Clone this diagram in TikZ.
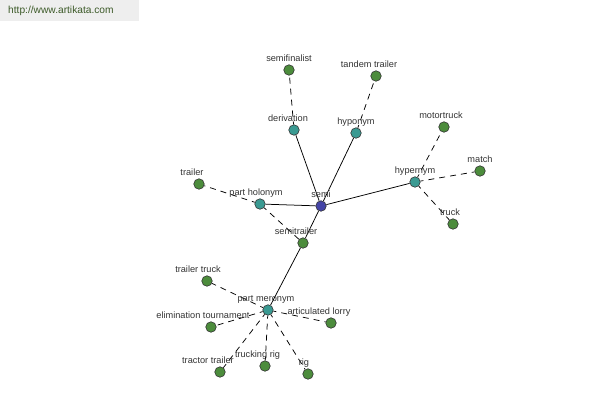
\documentclass[tikz,border=0pt]{standalone}
\usepackage{fontspec}
\setmainfont{Liberation Sans}
\usetikzlibrary{backgrounds}
\definecolor{semic}{HTML}{4444A6}
\definecolor{tealc}{HTML}{3A9A92}
\definecolor{greenc}{HTML}{4C8C3C}
\definecolor{txt}{HTML}{333333}
\definecolor{webtxt}{HTML}{3C5A28}
\definecolor{webbg}{HTML}{EEEEEE}
\tikzset{
  vert/.style={circle, draw=black!80, line width=0.6pt, minimum size=10.5pt, inner sep=0pt},
  semiv/.style={vert, fill=semic},
  relv/.style={vert, fill=tealc},
  wordv/.style={vert, fill=greenc},
  lab/.style={anchor=base, inner sep=0pt, font=\fontsize{9.2}{11}\selectfont, text=txt},
  solidedge/.style={draw=black, line width=0.75pt},
  dashedge/.style={draw=black, line width=0.75pt, dash pattern=on 6pt off 5pt, dash phase=3pt}
}
\begin{document}
\begin{tikzpicture}[x=1pt, y=-1pt]
\useasboundingbox (0,0) rectangle (600,400);
\node[fill=webbg, minimum width=139pt, minimum height=21pt, anchor=north west, inner sep=0pt] (webbox) at (0,0) {};
\node[anchor=west, inner sep=0pt, text=webtxt, font=\fontsize{10.2}{12}\selectfont] (web) at (8,11) {http://www.artikata.com};

\node[semiv] (semi) at (321,206) {};
\node[relv] (deriv) at (294,130) {};
\node[wordv] (semifin) at (289,70) {};
\node[relv] (hypo) at (356,133) {};
\node[wordv] (tandem) at (376,76) {};
\node[relv] (hyper) at (415,182) {};
\node[wordv] (motor) at (444,127) {};
\node[wordv] (match) at (480,171) {};
\node[wordv] (truck) at (453,224) {};
\node[relv] (holo) at (260,204) {};
\node[wordv] (trailer) at (199,184) {};
\node[wordv] (semitr) at (303,243) {};
\node[relv] (mero) at (268,310) {};
\node[wordv] (trtruck) at (207,281) {};
\node[wordv] (elim) at (211,327) {};
\node[wordv] (artic) at (331,323) {};
\node[wordv] (tractor) at (220,372) {};
\node[wordv] (trucking) at (265,366) {};
\node[wordv] (rig) at (308,374) {};

\foreach \n/\dx/\t in {semi/0/semi, deriv/-6/derivation, semifin/0/semifinalist, hypo/0/hyponym,
  tandem/-7/tandem trailer, hyper/0/hypernym, motor/-3/motortruck, match/0/match, truck/-3/truck,
  holo/-4/part holonym, trailer/-7/trailer, semitr/-7/semitrailer, mero/-2/part meronym,
  trtruck/-9/trailer truck, elim/-8/elimination tournament, artic/-12/articulated lorry,
  tractor/-12/tractor trailer, trucking/-7.5/trucking rig, rig/-4/rig}
  \node[lab] (l-\n) at ([xshift=\dx pt, yshift=8.5pt]\n.center) {\t};

\begin{scope}[on background layer]
\path[solidedge] (semi) -- (deriv) (semi) -- (hypo) (semi) -- (hyper)
  (semi) -- (holo) (semi) -- (semitr) (semitr) -- (mero);
\path[dashedge] (deriv) -- (semifin) (hypo) -- (tandem) (hyper) -- (motor)
  (hyper) -- (match) (hyper) -- (truck) (holo) -- (trailer) (holo) -- (semitr)
  (mero) -- (trtruck) (mero) -- (elim) (mero) -- (artic) (mero) -- (tractor)
  (mero) -- (trucking) (mero) -- (rig);
\end{scope}
\end{tikzpicture}
\end{document}
